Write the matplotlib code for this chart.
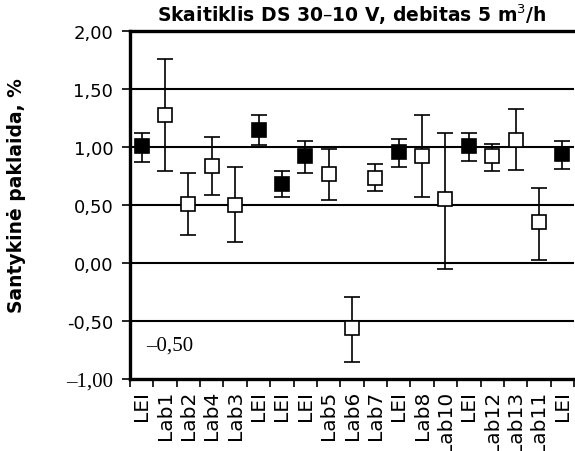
import matplotlib
matplotlib.use("Agg")
import matplotlib.pyplot as plt
import numpy as np
from matplotlib.ticker import FixedLocator

categories = ["LEI", "Lab1", "Lab2", "Lab4", "Lab3", "LEI", "LEI", "LEI", "Lab5", "Lab6",
              "Lab7", "LEI", "Lab8", "Lab10", "LEI", "Lab12", "Lab13", "Lab11", "LEI"]
values = [1.01, 1.28, 0.51, 0.84, 0.50, 1.15, 0.68, 0.92, 0.77, -0.56,
          0.73, 0.96, 0.92, 0.55, 1.01, 0.92, 1.06, 0.35, 0.94]
err_low = [0.87, 0.79, 0.24, 0.59, 0.18, 1.02, 0.57, 0.78, 0.54, -0.85,
           0.62, 0.83, 0.57, -0.05, 0.88, 0.79, 0.80, 0.03, 0.81]
err_high = [1.12, 1.76, 0.78, 1.09, 0.83, 1.28, 0.79, 1.05, 0.98, -0.29,
            0.85, 1.07, 1.28, 1.12, 1.12, 1.03, 1.33, 0.65, 1.05]
ytick_values = [2.0, 1.5, 1.0, 0.5, 0.0, -0.5, -1.0]
ytick_labels = ["2,00", "1,50", "1,00", "0,50", "0,00", "-0,50", "\u20131,00"]
title = "Skaitiklis DS 30\u201310 V, debitas 5 m$^3$/h"
ylabel = "Santykin\u0117 paklaida, %"
note = "\u20130,50"

W, H = 575, 452
fig = plt.figure(figsize=(W / 100, H / 100), dpi=100)
ax = fig.add_axes([130 / W, 1 - 380 / H, 444 / W, 348 / H])

x = np.arange(len(categories))
vals = np.array(values)
lo = vals - np.array(err_low)
hi = np.array(err_high) - vals

ax.set_xlim(-0.5, len(categories) - 0.5)
ax.set_ylim(-1.0, 2.0)

for yv in [1.5, 1.0, 0.5, 0.0, -0.5]:
    ax.axhline(yv, color="black", lw=1.5, zorder=1)

ax.errorbar(x, vals, yerr=[lo, hi], fmt="none", ecolor="black", elinewidth=1.2,
            capsize=5.5, capthick=1.2, zorder=2)
filled = np.array([c == "LEI" for c in categories])
ax.plot(x[filled], vals[filled], "s", ms=10, mfc="black", mec="black", mew=1.2, zorder=3)
ax.plot(x[~filled], vals[~filled], "s", ms=10, mfc="white", mec="black", mew=1.2, zorder=3)

ax.yaxis.set_major_locator(FixedLocator(ytick_values))
ax.set_yticklabels(ytick_labels, fontsize=13, family="DejaVu Sans")
for t, lab in zip(ax.get_yticklabels(), ytick_labels):
    if lab.startswith("\u2013"):
        t.set_fontfamily("Liberation Serif")
        t.set_fontsize(15)
ax.tick_params(axis="y", direction="out", length=6, width=1.2, pad=6)

ax.set_xticks(x)
ax.set_xticklabels(categories, rotation=90, fontsize=14.5, family="DejaVu Sans",
                   va="top", ha="center")
ax.set_xticks(np.arange(len(categories) + 1) - 0.5, minor=True)
ax.tick_params(axis="x", which="major", length=0, pad=8)
ax.tick_params(axis="x", which="minor", direction="out", length=6, width=1.2)

for s in ["left", "bottom", "top"]:
    ax.spines[s].set_linewidth(2.4)
ax.spines["right"].set_visible(False)

ax.set_title(title, fontsize=13.5, fontweight="bold", family="DejaVu Sans", pad=7)
fig.text(17 / W, 1 - 196 / H, ylabel, fontsize=13.5, fontweight="bold",
         family="DejaVu Sans", rotation=90, ha="center", va="center")

ax.text(1.2, -0.71, note, fontsize=15, family="Liberation Serif", ha="center", va="center")

fig.savefig("out.png", dpi=100)
